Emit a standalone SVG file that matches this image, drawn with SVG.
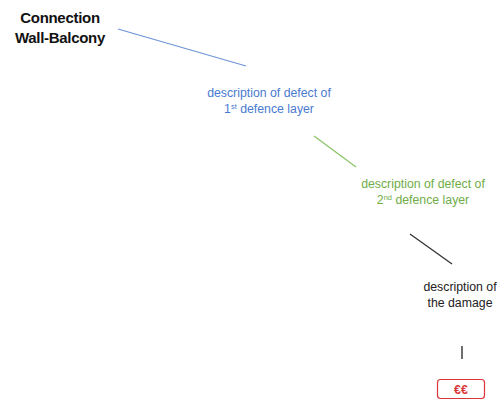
<svg xmlns="http://www.w3.org/2000/svg" width="501" height="401" viewBox="0 0 501 401">
<style>
text{font-family:"Liberation Sans",Arial,sans-serif;text-anchor:middle}
.t{font-size:15px;font-weight:bold;fill:#111;letter-spacing:-0.3px}
.l{font-size:12.3px}
.b{fill:#4a7bd0}
.g{fill:#70ad47}
.k{fill:#222}
.sup{font-size:7.5px}
</style>
<rect width="501" height="401" fill="#fff"/>
<g id="connectors" stroke-width="1.3" fill="none">
<line x1="118" y1="29" x2="246" y2="66" stroke="#6f95d8"/>
<line x1="314" y1="136" x2="356" y2="167" stroke="#8cc46a"/>
<line x1="410" y1="234" x2="452" y2="264" stroke="#333"/>
<line x1="462" y1="346" x2="462" y2="359" stroke="#222"/>
</g>
<g id="title">
<text class="t" x="60" y="23">Connection</text>
<text class="t" x="60" y="43">Wall-Balcony</text>
</g>
<g id="defect1">
<text class="l b" x="269" y="97">description of defect of</text>
<text class="l b" x="269" y="113">1<tspan class="sup" dy="-4.5">st</tspan><tspan dy="4.5"> defence layer</tspan></text>
</g>
<g id="defect2">
<text class="l g" x="423" y="188">description of defect of</text>
<text class="l g" x="423" y="204">2<tspan class="sup" dy="-4.5">nd</tspan><tspan dy="4.5"> defence layer</tspan></text>
</g>
<g id="damage">
<text class="l k" x="460" y="291">description of</text>
<text class="l k" x="460" y="307">the damage</text>
</g>
<g id="cost">
<rect x="437.5" y="379.5" width="47" height="19" rx="3" fill="#fff" stroke="#d9373a" stroke-width="1.2"/>
<text x="461" y="393.5" font-size="12.5" font-weight="bold" fill="#d9373a">€€</text>
</g>
</svg>
